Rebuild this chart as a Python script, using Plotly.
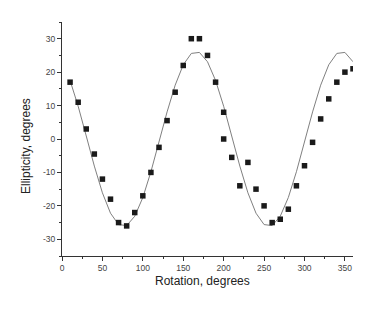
import plotly.graph_objects as go

# measured points (rotation, ellipticity)
rot_pts = [10, 20, 30, 40, 50, 60, 70, 80, 90, 100, 110, 120, 130, 140, 150, 160, 170, 180,
           190, 200, 200, 210, 220, 230, 240, 250, 260, 270, 280, 290, 300, 310, 320, 330,
           340, 350, 360]
ell_pts = [17, 11, 3, -4.5, -12, -18, -25, -26, -22, -17, -10, -2.5, 5.5, 14, 22, 30, 30, 25,
           17, 8, 0, -5.5, -14, -7, -15, -20, -25, -24, -21, -14, -8, -1, 6, 12,
           17, 20, 21]

# fitted curve
rot_fit = [10, 20, 30, 40, 50, 60, 70, 80, 90, 100, 110, 120, 130, 140, 150, 160, 170, 180,
           190, 200, 210, 220, 230, 240, 250, 260, 270, 280, 290, 300, 310, 320, 330, 340,
           350, 360]
ell_fit = [17.5, 9.8, 0.9, -8.1, -16.1, -22.2, -25.6, -25.9, -23.1, -17.5, -9.8, -0.9, 8.1,
           16.1, 22.2, 25.6, 25.9, 23.1, 17.5, 9.8, 0.9, -8.1, -16.1, -22.2, -25.6, -25.9,
           -23.1, -17.5, -9.8, -0.9, 8.1, 16.1, 22.2, 25.6, 25.9, 23.1]

x_ticks = [0, 50, 100, 150, 200, 250, 300, 350]
x_ticktext = ["0", "50", "100", "150", "200", "250", "300", "350"]
y_ticks = [-30, -20, -10, 0, 10, 20, 30]
y_ticktext = ["-30", "-20", "-10", "0", "10", "20", "30"]

FONT = "Liberation Sans, Arial, sans-serif"
AX = "#333333"

# page has an 8px body margin; figure placed at (8, 8)
W, H = 367, 310
L, R, T, B = 54, 22, 14, 62
PW, PH = W - L - R, H - T - B

fig = go.Figure()
fig.add_trace(go.Scatter(x=rot_fit, y=ell_fit, mode="lines",
                         line=dict(color="#808080", width=1), showlegend=False))
fig.add_trace(go.Scatter(x=rot_pts, y=ell_pts, mode="markers",
                         marker=dict(symbol="square", size=5.5, color="#1a1a1a",
                                     line=dict(width=0)), showlegend=False))

axis_common = dict(showline=True, linecolor=AX, linewidth=1, showgrid=False, zeroline=False,
                   ticks="outside", ticklen=4, tickcolor=AX, tickwidth=1,
                   tickfont=dict(family=FONT, size=8.5, color="#444444"))

fig.update_xaxes(range=[0, 360], tickvals=x_ticks, ticktext=x_ticktext,
                 minor=dict(tickvals=[25, 75, 125, 175, 225, 275, 325], ticks="outside",
                            ticklen=2, tickcolor=AX),
                 **axis_common)
fig.update_yaxes(range=[-35, 35], tickvals=y_ticks, ticktext=y_ticktext,
                 minor=dict(tickvals=[-35, -25, -15, -5, 5, 15, 25, 35], ticks="outside",
                            ticklen=2, tickcolor=AX),
                 **axis_common)

# title positions in page pixels
xt_x, xt_y = 202.5, 281
yt_x, yt_y = 25.5, 146.5

fig.update_layout(
    width=W, height=H,
    margin=dict(l=L, r=R, t=T, b=B),
    paper_bgcolor="white", plot_bgcolor="white",
    font=dict(family=FONT),
    annotations=[
        dict(text="Rotation, degrees", xref="paper", yref="paper",
             x=(xt_x - 8 - L) / PW, y=(T + PH - (xt_y - 8)) / PH,
             xanchor="center", yanchor="middle", showarrow=False,
             font=dict(family=FONT, size=12, color="#222222")),
        dict(text="Ellipticity, degrees", xref="paper", yref="paper",
             x=(yt_x - 8 - L) / PW, y=(T + PH - (yt_y - 8)) / PH,
             xanchor="center", yanchor="middle", showarrow=False,
             textangle=-90, font=dict(family=FONT, size=12, color="#222222")),
    ],
)

fig.write_html("out.html")
